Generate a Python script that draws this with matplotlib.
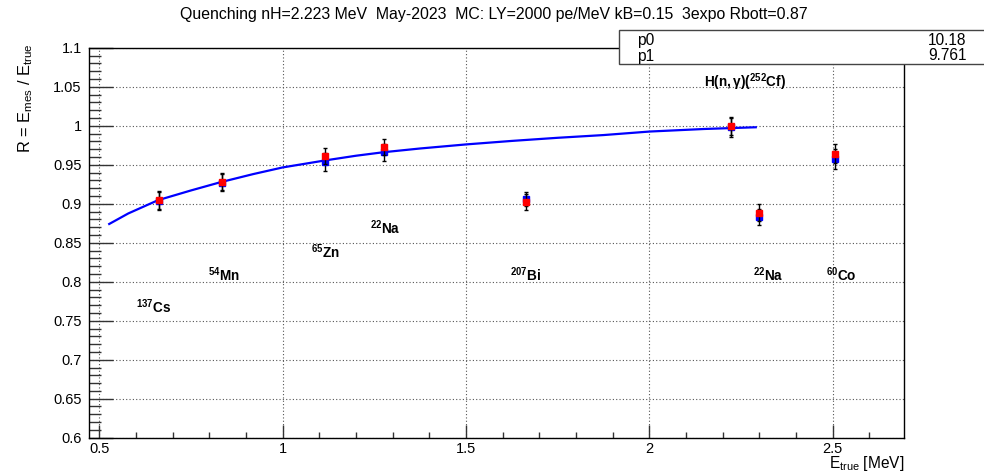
import matplotlib
matplotlib.use("Agg")
import matplotlib.pyplot as plt
from matplotlib.ticker import MultipleLocator
from matplotlib.patches import Rectangle

plt.rcParams['font.family'] = ['Liberation Sans', 'DejaVu Sans']
plt.rcParams['mathtext.fontset'] = 'custom'
plt.rcParams['mathtext.rm'] = 'Liberation Sans'
plt.rcParams['mathtext.bf'] = 'Liberation Sans:bold'
plt.rcParams['mathtext.it'] = 'Liberation Sans:italic'

# ---- data ----
energies = [0.662, 0.835, 1.116, 1.275, 1.664, 2.223, 2.298, 2.506]
r_red = [0.905, 0.928, 0.9615, 0.973, 0.9018, 0.9996, 0.8885, 0.964]
err_red = [0.0115, 0.011, 0.0105, 0.010, 0.0105, 0.012, 0.011, 0.012]
r_blue = [0.904, 0.927, 0.9535, 0.966, 0.9056, 0.998, 0.8826, 0.957]
err_blue = [0.0115, 0.011, 0.0115, 0.011, 0.009, 0.012, 0.010, 0.0125]

fit_x = [0.527, 0.579, 0.66, 0.75, 0.83, 0.92, 1.0, 1.116, 1.2, 1.275, 1.375,
         1.5, 1.625, 1.75, 1.875, 2.0, 2.15, 2.29]
fit_y = [0.874, 0.8875, 0.9045, 0.917, 0.9275, 0.938, 0.9465, 0.9555, 0.9615,
         0.966, 0.9708, 0.976, 0.9805, 0.9845, 0.988, 0.9925, 0.9958, 0.998]

label_texts = [r'$\mathbf{^{137}Cs}$', r'$\mathbf{^{54}Mn}$', r'$\mathbf{^{65}Zn}$',
               r'$\mathbf{^{22}Na}$', r'$\mathbf{^{207}Bi}$', r'$\mathbf{H(n,γ)(^{252}Cf)}$',
               r'$\mathbf{^{22}Na}$', r'$\mathbf{^{60}Co}$']
label_x = [0.60, 0.797, 1.077, 1.238, 1.62, 2.15, 2.282, 2.482]
label_y = [0.760, 0.801, 0.830, 0.861, 0.801, 1.050, 0.801, 0.801]

param_names = ['p0', 'p1']
param_values = ['10.18', '9.761']

title = "Quenching nH=2.223 MeV  May-2023  MC: LY=2000 pe/MeV kB=0.15  3expo Rbott=0.87"

# ---- figure ----
W, H = 984, 475
fig = plt.figure(figsize=(W / 100, H / 100), dpi=100)
ax = fig.add_axes([89.3 / W, 37.3 / H, 815 / W, 390 / H])
ax.set_xlim(0.4727, 2.695)
ax.set_ylim(0.6, 1.1)

ax.xaxis.set_major_locator(MultipleLocator(0.5))
ax.xaxis.set_minor_locator(MultipleLocator(0.1))
ax.yaxis.set_major_locator(MultipleLocator(0.05))
ax.yaxis.set_minor_locator(MultipleLocator(0.01))
ax.xaxis.set_major_formatter(plt.FuncFormatter(lambda v, p: f"{v:g}"))
ax.yaxis.set_major_formatter(plt.FuncFormatter(lambda v, p: f"{v:g}"))

ax.tick_params(axis='x', which='major', direction='in', length=9.1, width=1, labelsize=10.5, pad=3, color='#333333')
ax.tick_params(axis='x', which='minor', direction='in', length=4.3, width=1, color='#333333')
ax.tick_params(axis='y', which='major', direction='in', length=17, width=1, labelsize=10.5, pad=5.5, color='#333333')
ax.tick_params(axis='y', which='minor', direction='in', length=8.3, width=1, color='#333333')
ax.tick_params(top=False, right=False)

ax.grid(True, which='major', color='#555555', linestyle=(0, (1, 2)), linewidth=0.8)
ax.set_axisbelow(True)
for s in ax.spines.values():
    s.set_linewidth(1)
    s.set_color('black')

# fit curve
ax.plot(fit_x, fit_y, color='#0000ff', lw=1.6, zorder=3)

# points
ax.errorbar(energies, r_blue, yerr=err_blue, fmt='s', color='#0000ff', ms=4.3,
            mec='#0000ff', ecolor='black', elinewidth=1, capsize=1.5, capthick=1, zorder=4)
ax.errorbar(energies, r_red, yerr=err_red, fmt='s', color='#ff0000', ms=4.3,
            mec='#ff0000', ecolor='black', elinewidth=1, capsize=1.5, capthick=1, zorder=5)

for t, x, y in zip(label_texts, label_x, label_y):
    ax.text(x, y, t, fontsize=9.8, ha='left', va='baseline', zorder=6)

# titles / labels
fig.text(494 / W, 1 - 15 / H, title, ha='center', va='center', fontsize=11.4)
fig.text(904 / W, 7 / H, r'E$_{\rm true}$ [MeV]', ha='right', va='baseline', fontsize=11.2)
fig.text(26 / W, 1 - 43 / H, r'R = E$_{\rm mes}$ / E$_{\rm true}$', rotation=90,
         ha='center', va='top', fontsize=11.8)

# stats box
box = Rectangle((619 / W, 1 - 64.3 / H), (984 - 619 + 5) / W, (64.3 - 30) / H,
                transform=fig.transFigure, facecolor='white', edgecolor='#444444',
                lw=1, zorder=10, clip_on=False)
fig.add_artist(box)
row_y = [1 - 40.5 / H, 1 - 56 / H]
for n, v, y in zip(param_names, param_values, row_y):
    fig.text(636.7 / W, y, n, ha='left', va='center', fontsize=11.2, zorder=11)
    fig.text(966.7 / W, y, v, ha='right', va='center', fontsize=11.2, zorder=11)

fig.savefig('out.png', dpi=100)
